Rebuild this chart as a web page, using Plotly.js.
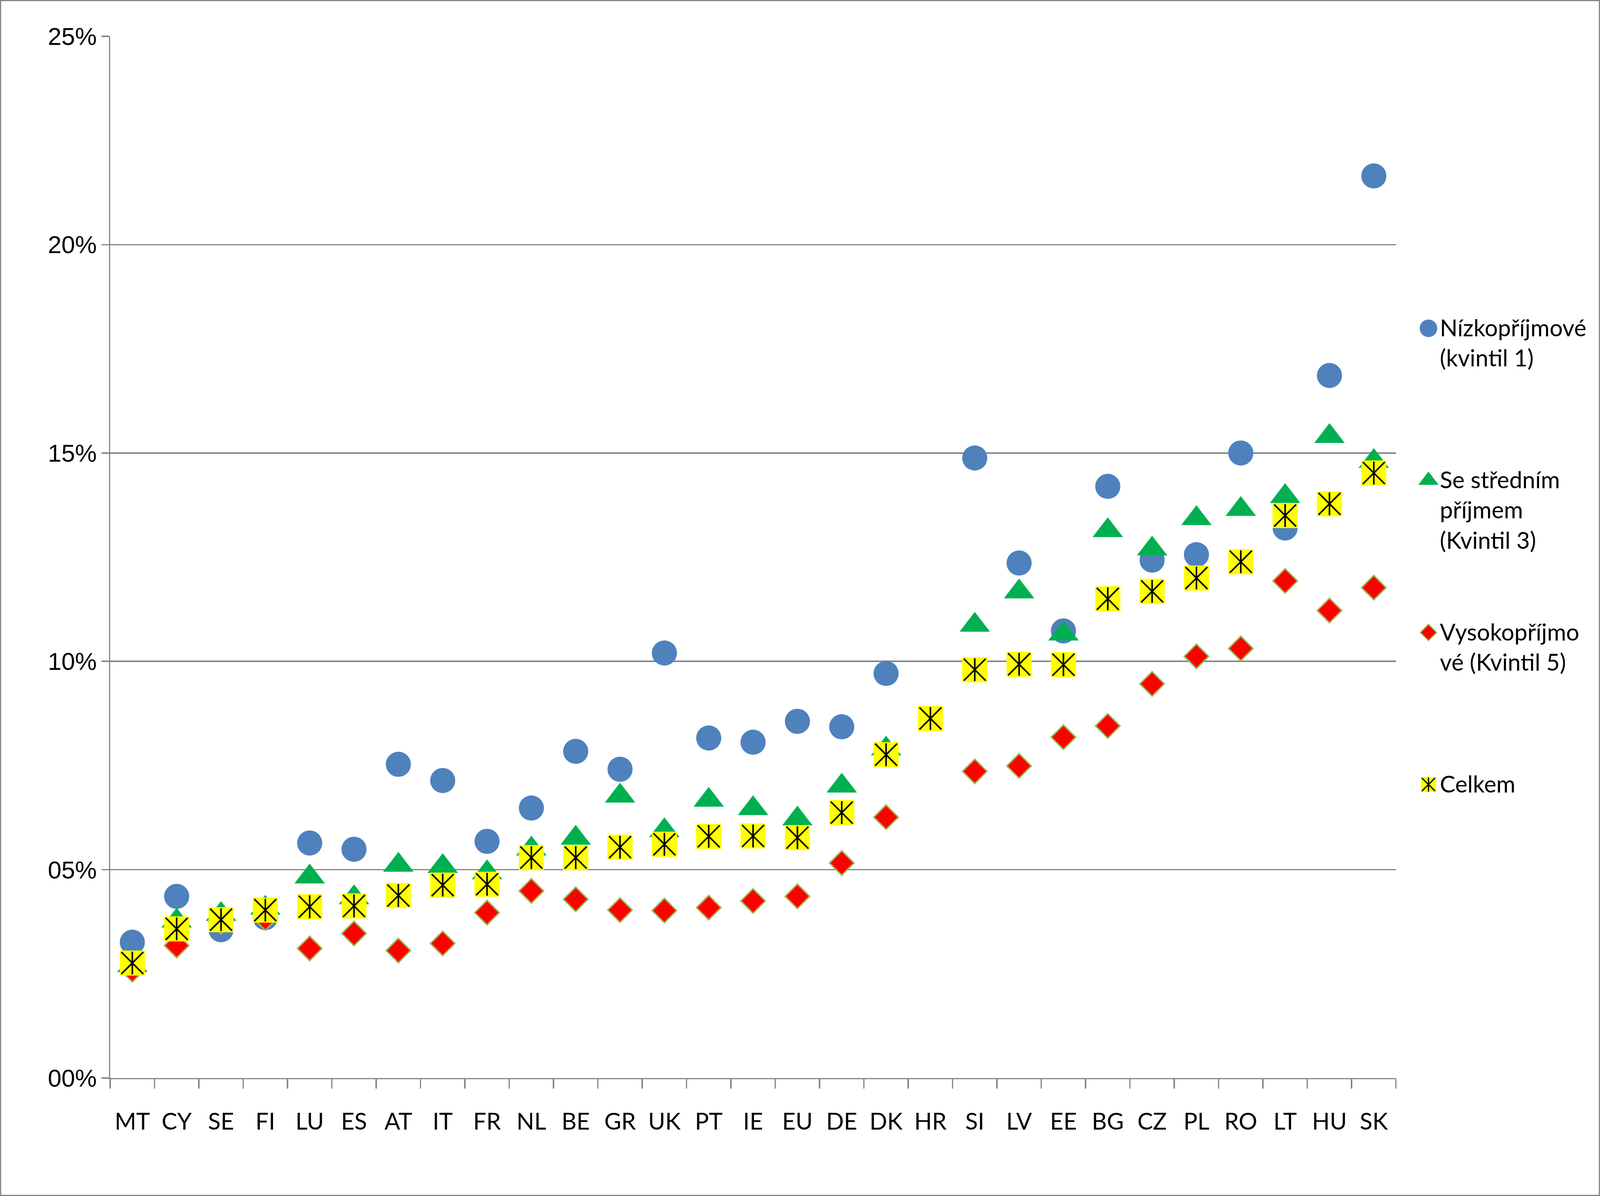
<!DOCTYPE html>
<html>
<head>
<meta charset="utf-8">
<script src="https://cdn.plot.ly/plotly-3.0.1.min.js"></script>
<style>
  html, body { margin: 0; padding: 0; background: #fff; overflow: hidden; }
  #chart { position: absolute; left: 0; top: 0; }
  #frame { position: absolute; left: 0; top: 0; box-sizing: border-box; border: 5px solid #868686; pointer-events: none; }
</style>
</head>
<body>
<div id="chart"></div>
<div id="frame"></div>
<script>
// country codes, sorted as in the source chart
const countries = ['MT','CY','SE','FI','LU','ES','AT','IT','FR','NL','BE','GR','UK','PT','IE',
                   'EU','DE','DK','HR','SI','LV','EE','BG','CZ','PL','RO','LT','HU','SK'];

// values in % (HR only has the total)
const lowIncome = [3.26, 4.36, 3.56, 3.85, 5.64, 5.49, 7.53, 7.14, 5.68, 6.48, 7.84, 7.41, 10.2, 8.16, 8.06,
                   8.56, 8.43, 9.71, null, 14.88, 12.36, 10.73, 14.2, 12.43, 12.56, 15.0, 13.2, 16.86, 21.65];
const midIncome = [2.7, 3.77, 3.93, 4.08, 4.83, 4.33, 5.11, 5.08, 4.93, 5.5, 5.76, 6.77, 5.94, 6.67, 6.47,
                   6.22, 7.01, 7.9, null, 10.87, 11.67, 10.66, 13.14, 12.7, 13.43, 13.65, 13.96, 15.4, 14.8];
const highIncome = [2.6, 3.18, 3.75, 3.84, 3.11, 3.47, 3.06, 3.23, 3.97, 4.49, 4.29, 4.03, 4.02, 4.09, 4.25,
                    4.36, 5.16, 6.26, null, 7.36, 7.49, 8.18, 8.45, 9.46, 10.12, 10.31, 11.93, 11.22, 11.77];
const total = [2.76, 3.58, 3.8, 4.03, 4.11, 4.13, 4.38, 4.63, 4.65, 5.29, 5.29, 5.54, 5.61, 5.8, 5.81,
               5.77, 6.37, 7.76, 8.63, 9.8, 9.93, 9.92, 11.5, 11.68, 12.0, 12.39, 13.5, 13.78, 14.52];

const yTickVals = [0, 5, 10, 15, 20, 25];
const yTickText = ['00%', '05%', '10%', '15%', '20%', '25%'];

const legendLabels = ['Nízkopříjmové<br>(kvintil 1)', 'Se středním<br>příjmem<br>(Kvintil 3)',
                      'Vysokopříjmo<br>vé (Kvintil 5)', 'Celkem'];

const gridColor = '#868686';
const textFont = 'Lato, "Open Sans", sans-serif';

// the chart is laid out on a 5858 x 3062 base, then fitted to the window
const W = window.innerWidth, H = window.innerHeight;
const sx = W / 5858, sy = H / 3062, sf = Math.min(sx, sy);
const fs = Math.min(sx * 1.12, sy);   // text scale
const ms = Math.min(sx * 1.15, sy);   // marker scale

const chartDiv = document.getElementById('chart');
chartDiv.style.width = W + 'px'; chartDiv.style.height = H + 'px';
const frame = document.getElementById('frame');
frame.style.width = W + 'px'; frame.style.height = H + 'px';
frame.style.borderWidth = Math.max(1, 5 * sf) + 'px';

// plot area (base px): 403..5111 wide, 93..2760 tall
const mL = 403 * sx, mR = 20 * sx, mT = 93 * sy, mB = 302 * sy;
const plotRight = 5111 * sx;
const mainDomainEnd = (plotRight - mL) / (W - mL - mR);

// marker styles for each series (plot size, legend size)
const styles = [
    { symbol: 'circle', color: '#4F81BD', size: 80, legSize: 56 },
    { symbol: 'triangle-up', color: '#00B050', size: 84, legSize: 56 },
    { symbol: 'diamond', color: '#FF0000', size: 60, legSize: 40, line: { color: '#9BBB59', width: 4.5 } },
    { symbol: 'square', color: '#FFFF00', size: 80, legSize: 48 },
];
const seriesValues = [lowIncome, midIncome, highIncome, total];

const traces = [];
seriesValues.forEach((vals, i) => {
    const s = styles[i];
    traces.push({
        x: countries, y: vals, type: 'scatter', mode: 'markers', showlegend: false,
        name: legendLabels[i],
        marker: { symbol: s.symbol, size: s.size * ms, color: s.color,
                  line: s.line ? { color: s.line.color, width: s.line.width * ms } : { width: 0 } },
    });
});
// star drawn on top of the yellow square
traces.push({
    x: countries, y: total, type: 'scatter', mode: 'markers', showlegend: false,
    marker: { symbol: 'x-thin-open', size: 70 * ms, color: '#000', line: { color: '#000', width: 5 * ms } },
});
traces.push({
    x: countries, y: total, type: 'scatter', mode: 'markers', showlegend: false,
    marker: { symbol: 'line-ns-open', size: 52 * ms, color: '#000', line: { color: '#000', width: 5 * ms } },
});

// legend drawn on a hidden overlay axis: one row per series
const legendSymbolX = 119, legendTextX = 158;
const legendRows = legendLabels.map((_, i) => i);
seriesValues.forEach((_, i) => {
    const s = styles[i];
    traces.push({
        x: [legendSymbolX], y: [legendRows[i]], xaxis: 'x2', yaxis: 'y2',
        type: 'scatter', mode: 'markers', showlegend: false,
        marker: { symbol: s.symbol, size: s.legSize * ms, color: s.color,
                  line: s.line ? { color: s.line.color, width: 3.5 * ms } : { width: 0 } },
    });
});
traces.push({
    x: [legendSymbolX], y: [legendRows[3]], xaxis: 'x2', yaxis: 'y2',
    type: 'scatter', mode: 'markers', showlegend: false,
    marker: { symbol: 'x-thin-open', size: 42 * ms, color: '#000', line: { color: '#000', width: 4 * ms } },
});
traces.push({
    x: [legendSymbolX], y: [legendRows[3]], xaxis: 'x2', yaxis: 'y2',
    type: 'scatter', mode: 'markers', showlegend: false,
    marker: { symbol: 'line-ns-open', size: 32 * ms, color: '#000', line: { color: '#000', width: 4 * ms } },
});

const legendFontSize = 76 * fs;
const annotations = legendLabels.map((txt, i) => ({
    xref: 'x2', yref: 'y2', x: legendTextX, y: legendRows[i],
    xanchor: 'left', yanchor: 'top', align: 'left', yshift: 0.68 * legendFontSize,
    text: txt, showarrow: false,
    font: { family: textFont, size: legendFontSize, color: '#000' },
}));

const layout = {
    width: W,
    height: H,
    margin: { l: mL, r: mR, t: mT, b: mB },
    paper_bgcolor: '#fff',
    plot_bgcolor: '#fff',
    showlegend: false,
    annotations: annotations,
    xaxis: {
        domain: [0, mainDomainEnd],
        type: 'category',
        range: [-0.5, countries.length - 0.5],
        tickson: 'boundaries',
        ticks: 'outside', ticklen: 24 * sy, tickwidth: 5 * sf, tickcolor: gridColor,
        showline: true, linecolor: gridColor, linewidth: 5 * sf,
        showgrid: false, zeroline: false,
        ticklabelstandoff: 57 * sy,
        tickfont: { family: textFont, size: 76 * fs, color: '#000' },
        fixedrange: true,
    },
    yaxis: {
        range: [0, 25],
        tickvals: yTickVals, ticktext: yTickText,
        ticks: 'outside', ticklen: 26 * sx, tickwidth: 5 * sf, tickcolor: gridColor,
        showline: true, linecolor: gridColor, linewidth: 5 * sf,
        showgrid: true, gridcolor: gridColor, gridwidth: 5 * sf,
        zeroline: false,
        ticklabelstandoff: 40 * sx,
        tickfont: { family: '"Liberation Sans", Arial, sans-serif', size: 80 * fs, color: '#000' },
        fixedrange: true,
    },
    // overlay axes for the hand-made legend: base pixels from the plot's right edge / rows
    xaxis2: {
        domain: [mainDomainEnd, 1], range: [0, 5858 - 20 - 5111], anchor: 'y2',
        visible: false, fixedrange: true,
    },
    yaxis2: {
        domain: [0, 1], range: [4.93, -1.92], anchor: 'x2',
        visible: false, fixedrange: true,
    },
};

Plotly.newPlot('chart', traces, layout, { staticPlot: true, displayModeBar: false });
</script>
</body>
</html>
